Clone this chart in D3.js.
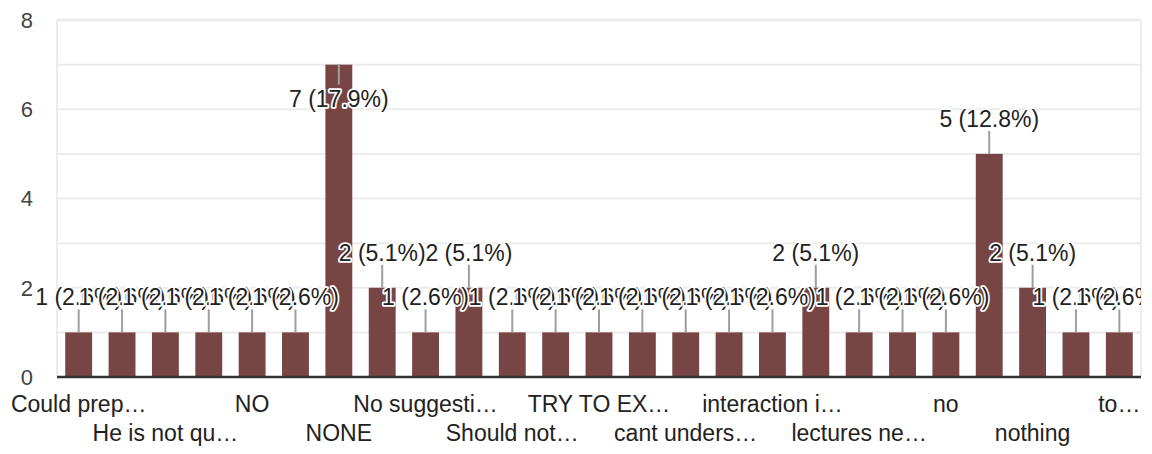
<!DOCTYPE html>
<html>
<head>
<meta charset="utf-8">
<script src="https://cdn.jsdelivr.net/npm/d3@7"></script>
<style>
  html, body { margin: 0; padding: 0; background: #fff; }
  svg { display: block; font-family: "Liberation Sans", Arial, sans-serif; }
</style>
</head>
<body>
<svg id="chart" width="1152" height="454"></svg>
<script>
// Categories (as shown, truncated; hidden ones are estimates between neighbours alphabetically)
const categories = [
  "Could prep…", "Good", "He is not qu…", "Improve", "NO", "NO COMMENTS",
  "NONE", "NOTHING", "No suggesti…", "Nothing", "Should not…", "Slow down",
  "TRY TO EX…", "Teach slowly", "cant unders…", "good", "interaction i…",
  "it's good", "lectures ne…", "more examples", "no", "none", "nothing",
  "speak slowly", "to…"
];
const values = [1, 1, 1, 1, 1, 1, 7, 2, 1, 2, 1, 1, 1, 1, 1, 1, 1, 2, 1, 1, 1, 5, 2, 1, 1];
const yTicks = [0, 2, 4, 6, 8];
const yGrid = [0, 1, 2, 3, 4, 5, 6, 7, 8];

const svg = d3.select("#chart");
const plot = { left: 57, right: 1141, top: 20, bottom: 377 };
const total = d3.sum(values);

svg.append("defs").append("clipPath").attr("id", "clip")
  .append("rect").attr("x", 0).attr("y", 0)
  .attr("width", plot.right).attr("height", 454);

const x = d3.scaleBand()
  .domain(d3.range(categories.length))
  .range([plot.left, plot.right])
  .paddingInner(0.38)
  .paddingOuter(0.19);
const y = d3.scaleLinear().domain([0, 8]).range([plot.bottom, plot.top]);

// gridlines
svg.append("g").selectAll("line").data(yGrid.filter(d => d > 0)).join("line")
  .attr("x1", plot.left).attr("x2", plot.right)
  .attr("y1", d => y(d)).attr("y2", d => y(d))
  .attr("stroke", "#ececec").attr("stroke-width", d => d === 8 ? 3 : 2);
// side borders
svg.append("g").selectAll("line").data([plot.left, plot.right]).join("line")
  .attr("x1", d => d).attr("x2", d => d)
  .attr("y1", plot.top).attr("y2", plot.bottom)
  .attr("stroke", "#ececec").attr("stroke-width", 2);

// y tick labels
svg.append("g").selectAll("text").data(yTicks).join("text")
  .attr("x", 33).attr("y", d => y(d)).attr("dy", "0.36em")
  .attr("text-anchor", "end")
  .attr("font-size", 22).attr("fill", "#444")
  .text(d => d);

// bars
svg.append("g").selectAll("rect").data(values).join("rect")
  .attr("x", (d, i) => x(i)).attr("width", x.bandwidth())
  .attr("y", d => y(d)).attr("height", d => y(0) - y(d))
  .attr("fill", "#784545");

// baseline
svg.append("line")
  .attr("x1", plot.left).attr("x2", plot.right)
  .attr("y1", plot.bottom).attr("y2", plot.bottom)
  .attr("stroke", "#333").attr("stroke-width", 2.5);

// annotations
const stemLen = 23;
const inside = d => y(d) - 27 - 18 < plot.top + 30;
const ann = svg.append("g").attr("clip-path", "url(#clip)");
ann.append("g").selectAll("line").data(values).join("line")
  .attr("x1", (d, i) => x(i) + x.bandwidth() / 2)
  .attr("x2", (d, i) => x(i) + x.bandwidth() / 2)
  .attr("y1", d => y(d))
  .attr("y2", d => inside(d) ? y(d) + 20 : y(d) - stemLen)
  .attr("stroke", "#9e9e9e").attr("stroke-width", 2);

ann.append("g").selectAll("text").data(values).join("text")
  .attr("x", (d, i) => x(i) + x.bandwidth() / 2)
  .attr("y", d => inside(d) ? y(d) + 42 : y(d) - stemLen - 4)
  .attr("text-anchor", "middle")
  .attr("font-size", 23).attr("fill", "#222")
  .attr("stroke", "#fff").attr("stroke-width", 3.5)
  .attr("stroke-linejoin", "round").attr("paint-order", "stroke")
  .text(d => `${d} (${(d / total * 100).toFixed(1)}%)`);

// x labels (every other category, alternating rows)
svg.append("g").selectAll("text")
  .data(categories.map((c, i) => ({ c, i })).filter(d => d.i % 2 === 0))
  .join("text")
  .attr("x", d => x(d.i) + x.bandwidth() / 2)
  .attr("y", d => (d.i / 2) % 2 === 0 ? 412 : 441)
  .attr("text-anchor", "middle")
  .attr("font-size", 23).attr("fill", "#222")
  .text(d => d.c);
</script>
</body>
</html>
